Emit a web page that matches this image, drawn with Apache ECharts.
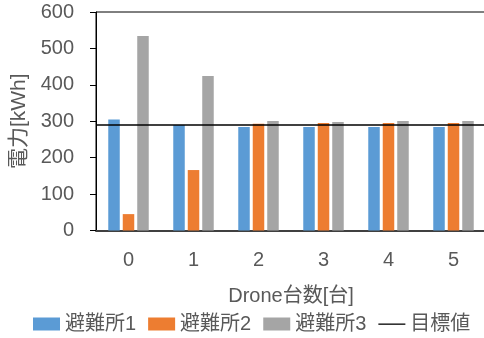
<!DOCTYPE html>
<html lang="ja">
<head>
    <meta charset="UTF-8">
    <title>電力</title>
    <style>
        body,html{
            width: 484px;
            height: 338px;
            margin: 0;
            background: #fff;
        }
        #chart{
            width: 484px;
            height: 338px;
        }
    </style>
</head>
<body>
<div id="chart"></div>
<script src="https://cdn.jsdelivr.net/npm/echarts@6/dist/echarts.min.js"></script>
<script type="text/javascript">
    //データ
    let categories = ['0', '1', '2', '3', '4', '5'];
    let shelter1 = [305, 290, 284, 284, 284, 284];
    let shelter2 = [45, 166, 293, 295, 295, 295];
    let shelter3 = [534, 424, 301, 298, 301, 301];
    let target = 290;
    let yMin = 0, yMax = 600, yStep = 100;

    let font = "'Liberation Sans', 'Noto Sans CJK JP', sans-serif";
    let txt = '#595959';

    let myChart = echarts.init(document.getElementById('chart'));

    function bar(name, data, color) {
        return {
            name: name,
            type: 'bar',
            data: data,
            barWidth: 11.5,
            barGap: '26%',
            itemStyle: {color: color}
        };
    }

    let option = {
        animation: false,
        textStyle: {fontFamily: font},
        grid: {
            left: 96, top: 12, right: -2, bottom: 107.5,
            outerBoundsMode: 'none',
            containLabel: false,
            show: true, borderColor: '#000', borderWidth: 1
        },
        legend: {
            left: 33, top: 314, padding: 0,
            itemWidth: 27, itemHeight: 13, itemGap: 12,
            textStyle: {fontSize: 20, color: txt, fontFamily: font},
            data: [
                {name: '避難所1', icon: 'rect'},
                {name: '避難所2', icon: 'rect'},
                {name: '避難所3', icon: 'rect'},
                //線だけのアイコン
                {name: '目標値', icon: 'path://M0,0L0,0M0,6L27,6L27,7.3L0,7.3ZM27,13L27,13'}
            ]
        },
        xAxis: {
            type: 'category',
            data: categories,
            name: 'Drone台数[台]',
            nameLocation: 'middle',
            nameGap: 56,
            nameTextStyle: {fontSize: 20, color: txt},
            axisLine: {lineStyle: {color: '#404040', width: 2}},
            axisTick: {inside: true, length: 6, lineStyle: {color: '#000'}},
            axisLabel: {fontSize: 20, color: txt, margin: 20}
        },
        yAxis: {
            type: 'value',
            min: yMin, max: yMax, interval: yStep,
            name: '電力[kWh]',
            nameLocation: 'middle',
            nameRotate: 90,
            nameGap: 58,
            nameTextStyle: {fontSize: 21, color: txt},
            axisLine: {show: true, lineStyle: {color: '#000', width: 1}},
            axisTick: {show: true, length: 6, lineStyle: {color: '#000'}},
            axisLabel: {fontSize: 20, color: txt, margin: 22},
            splitLine: {show: false}
        },
        series: [
            bar('避難所1', shelter1, '#5B9BD5'),
            bar('避難所2', shelter2, '#ED7D31'),
            bar('避難所3', shelter3, '#A5A5A5'),
            {
                name: '目標値',
                type: 'line',
                data: [],
                symbol: 'none',
                itemStyle: {color: '#000'},
                lineStyle: {color: '#000', width: 1.5},
                markLine: {
                    silent: true,
                    symbol: 'none',
                    label: {show: false},
                    lineStyle: {color: '#000', width: 1.5, type: 'solid'},
                    data: [{yAxis: target}]
                }
            }
        ]
    };
    myChart.setOption(option);
</script>
</body>
</html>
